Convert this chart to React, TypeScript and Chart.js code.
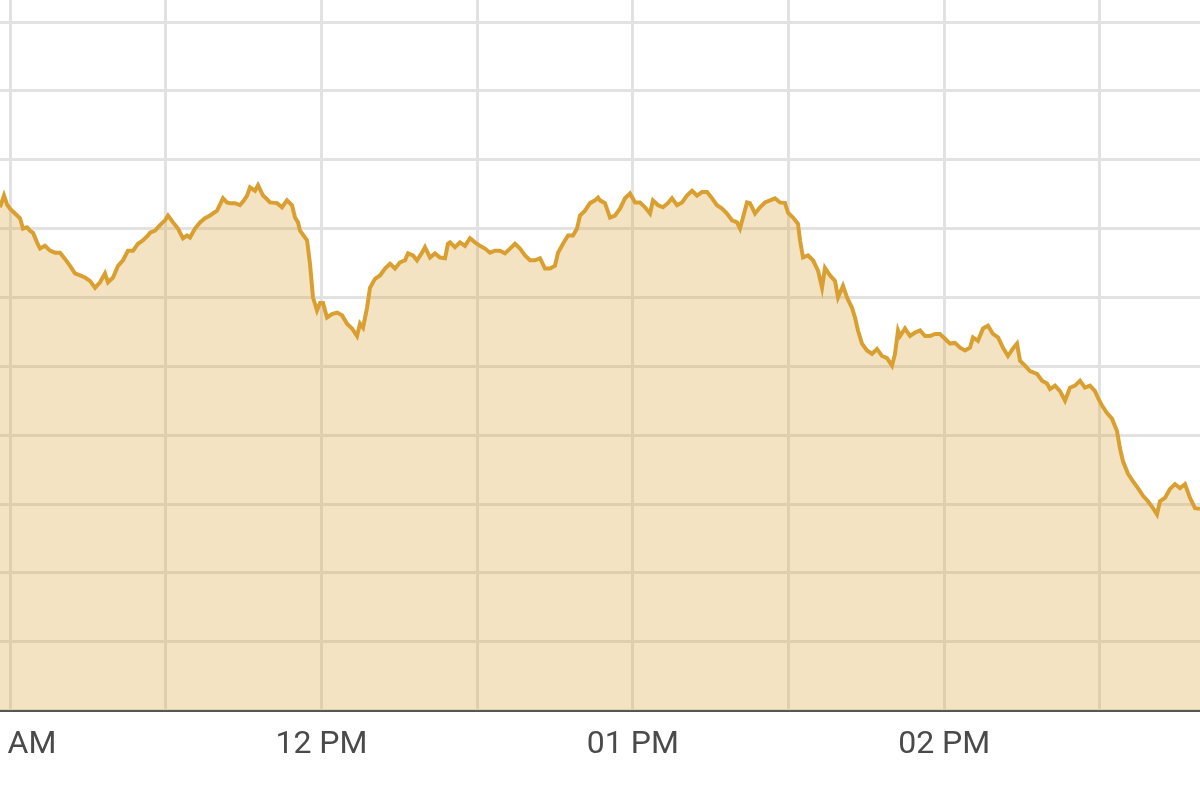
import React, { useEffect, useRef } from 'react';
import { Chart, registerables } from 'chart.js';

Chart.register(...registerables);

// time of each sample, minutes since midnight
const times: number[] = [
  658.07, 658.84, 659.42, 660.0, 660.96, 661.93, 662.5, 663.28, 663.85, 664.43,
  665.2, 665.78, 666.74, 667.71, 668.67, 669.63, 670.6, 671.56, 672.52, 673.49,
  674.45, 675.41, 676.38, 677.34, 678.3, 678.88, 679.85, 680.81, 681.77, 682.74,
  683.7, 684.66, 685.63, 686.59, 686.98, 687.94, 688.9, 689.87, 690.44, 691.41,
  692.37, 692.76, 693.33, 694.1, 694.68, 695.65, 696.61, 697.57, 698.54, 699.89,
  701.04, 701.81, 702.39, 703.35, 704.32, 705.09, 705.67, 706.24, 707.21, 707.79,
  708.75, 709.33, 710.1, 711.45, 712.41, 713.37, 714.34, 714.91, 715.49, 715.88,
  716.65, 717.23, 717.8, 718.38, 719.15, 719.73, 720.31, 721.08, 722.04, 723.01,
  723.97, 724.93, 725.9, 726.86, 727.44, 728.02, 728.79, 729.36, 730.33, 731.29,
  732.26, 733.22, 734.18, 735.15, 736.11, 736.69, 737.65, 738.42, 739.38, 739.96,
  740.93, 741.89, 742.85, 743.82, 744.39, 744.78, 745.74, 746.71, 747.67, 748.63,
  749.6, 750.56, 751.52, 752.49, 753.45, 754.41, 755.38, 756.34, 757.3, 758.27,
  759.23, 760.19, 761.16, 762.12, 763.08, 764.05, 765.01, 765.59, 766.55, 767.52,
  768.48, 769.25, 769.83, 770.79, 771.75, 772.72, 773.3, 773.68, 774.64, 775.61,
  776.57, 777.53, 778.5, 779.46, 780.43, 781.39, 782.35, 783.32, 783.89, 784.86,
  785.82, 786.78, 787.55, 788.52, 789.48, 790.44, 791.41, 792.37, 793.33, 794.3,
  795.26, 796.22, 797.19, 798.15, 799.12, 800.08, 800.66, 801.23, 802.01, 802.58,
  803.55, 804.51, 805.47, 806.44, 807.4, 808.36, 809.33, 809.91, 810.87, 811.83,
  812.22, 812.8, 813.76, 814.72, 815.69, 816.46, 817.03, 818.0, 818.96, 819.54,
  820.5, 821.27, 822.24, 822.81, 823.39, 824.16, 825.13, 826.09, 827.05, 828.02,
  828.98, 829.94, 830.52, 831.1, 831.49, 832.45, 833.41, 834.38, 835.34, 836.3,
  837.27, 838.23, 839.19, 840.16, 841.12, 842.08, 843.05, 844.01, 844.97, 845.55,
  846.51, 847.48, 848.44, 849.4, 850.37, 851.33, 852.29, 853.26, 854.03, 854.61,
  855.57, 856.53, 857.88, 858.85, 859.81, 860.39, 861.35, 862.31, 863.28, 864.24,
  865.2, 866.17, 867.13, 868.09, 869.06, 869.64, 870.41, 871.37, 872.33, 873.3,
  873.87, 874.45, 875.42, 876.38, 877.34, 878.31, 879.27, 880.23, 881.0, 881.58,
  882.55, 883.51, 884.47, 885.44, 886.4, 887.36, 888.33, 889.29
];

const prices: number[] = [
  107.31, 107.48, 107.35, 107.29, 107.22, 107.15, 107.0, 107.02, 106.97, 106.94,
  106.8, 106.71, 106.75, 106.68, 106.65, 106.65, 106.56, 106.46, 106.35, 106.32,
  106.29, 106.24, 106.14, 106.22, 106.35, 106.22, 106.29, 106.46, 106.54, 106.68,
  106.68, 106.78, 106.83, 106.9, 106.94, 106.97, 107.05, 107.12, 107.19, 107.09,
  107.0, 106.94, 106.86, 106.9, 106.87, 107.0, 107.09, 107.15, 107.19, 107.26,
  107.44, 107.38, 107.37, 107.37, 107.34, 107.41, 107.48, 107.6, 107.55, 107.63,
  107.48, 107.44, 107.38, 107.37, 107.31, 107.41, 107.34, 107.16, 107.09, 106.97,
  106.89, 106.83, 106.49, 106.0, 105.81, 105.92, 105.92, 105.71, 105.76, 105.78,
  105.74, 105.62, 105.55, 105.44, 105.62, 105.56, 105.85, 106.14, 106.27, 106.32,
  106.42, 106.49, 106.42, 106.51, 106.54, 106.64, 106.61, 106.54, 106.65, 106.73,
  106.58, 106.64, 106.58, 106.57, 106.78, 106.8, 106.73, 106.8, 106.75, 106.86,
  106.8, 106.75, 106.71, 106.65, 106.68, 106.68, 106.64, 106.71, 106.78, 106.71,
  106.61, 106.54, 106.54, 106.57, 106.42, 106.42, 106.46, 106.65, 106.78, 106.9,
  106.9, 107.0, 107.19, 107.26, 107.37, 107.41, 107.45, 107.41, 107.37, 107.16,
  107.19, 107.29, 107.44, 107.51, 107.38, 107.38, 107.31, 107.22, 107.41, 107.34,
  107.31, 107.37, 107.44, 107.34, 107.38, 107.48, 107.55, 107.48, 107.53, 107.53,
  107.44, 107.34, 107.29, 107.22, 107.12, 107.09, 107.0, 107.16, 107.38, 107.37,
  107.22, 107.31, 107.38, 107.41, 107.44, 107.38, 107.37, 107.23, 107.16, 107.07,
  106.83, 106.58, 106.61, 106.54, 106.39, 106.14, 106.43, 106.32, 106.24, 106.0,
  106.17, 106.0, 105.85, 105.71, 105.52, 105.33, 105.23, 105.18, 105.25, 105.15,
  105.12, 105.01, 105.18, 105.52, 105.44, 105.55, 105.44, 105.49, 105.52, 105.44,
  105.44, 105.47, 105.47, 105.4, 105.33, 105.34, 105.27, 105.23, 105.27, 105.42,
  105.37, 105.55, 105.59, 105.47, 105.42, 105.27, 105.15, 105.26, 105.33, 105.08,
  105.01, 104.93, 104.89, 104.79, 104.75, 104.67, 104.72, 104.64, 104.5, 104.69,
  104.72, 104.79, 104.69, 104.72, 104.64, 104.54, 104.43, 104.32, 104.24, 104.06,
  103.81, 103.62, 103.44, 103.33, 103.23, 103.12, 103.04, 102.94, 102.85, 103.04,
  103.09, 103.22, 103.29, 103.23, 103.29, 103.09, 102.94, 102.93
];

const xTickValues: number[] = [660, 690, 720, 750, 780, 810, 840, 870];
const xTickLabels: string[] = ['11 AM', '', '12 PM', '', '01 PM', '', '02 PM', ''];
const yTickValues: number[] = [100, 101, 102, 103, 104, 105, 106, 107, 108, 109, 110];

export default function App() {
  const ref = useRef<HTMLCanvasElement>(null);

  useEffect(() => {
    document.body.style.margin = '0';
    const canvas = ref.current;
    if (!canvas) return;
    const chart = new Chart(canvas, {
      type: 'line',
      data: {
        datasets: [
          {
            data: times.map((t, i) => ({ x: t, y: prices[i] })),
            borderColor: '#d9a031',
            backgroundColor: 'rgba(218, 162, 52, 0.3)',
            fill: 'start',
            borderWidth: 4,
            pointRadius: 0,
            tension: 0,
          },
        ],
      },
      options: {
        animation: false,
        responsive: false,
        layout: { padding: { left: 0, right: 0, top: 0, bottom: 20 } },
        plugins: { legend: { display: false }, tooltip: { enabled: false } },
        scales: {
          x: {
            type: 'linear',
            min: 658.07,
            max: 889.29,
            afterBuildTicks: (s: any) => {
              s.ticks = xTickValues.map((v) => ({ value: v }));
            },
            afterFit: (s: any) => {
              s.paddingLeft = 0;
              s.paddingRight = 0;
            },
            ticks: {
              autoSkip: false,
              maxRotation: 0,
              minRotation: 0,
              padding: 15,
              color: '#4a4a4a',
              font: { family: 'Roboto', size: 32 },
              callback: (_v: any, i: number) => xTickLabels[i] ?? '',
            },
            grid: { color: '#e2e2e2', lineWidth: 3, drawTicks: false },
            border: { display: true, color: '#555555', width: 2 },
          },
          y: {
            min: 100,
            max: 110.32,
            afterBuildTicks: (s: any) => {
              s.ticks = yTickValues.map((v) => ({ value: v }));
            },
            afterFit: (s: any) => {
              s.paddingTop = 0;
              s.paddingBottom = 0;
            },
            ticks: { display: false },
            grid: { color: '#e2e2e2', lineWidth: 3, drawTicks: false },
            border: { display: false },
          },
        },
      },
    });
    return () => chart.destroy();
  }, []);

  return (
    <div style={{ width: 1200, height: 799, background: '#ffffff' }}>
      <canvas ref={ref} width={1200} height={799} style={{ display: 'block' }} />
    </div>
  );
}
